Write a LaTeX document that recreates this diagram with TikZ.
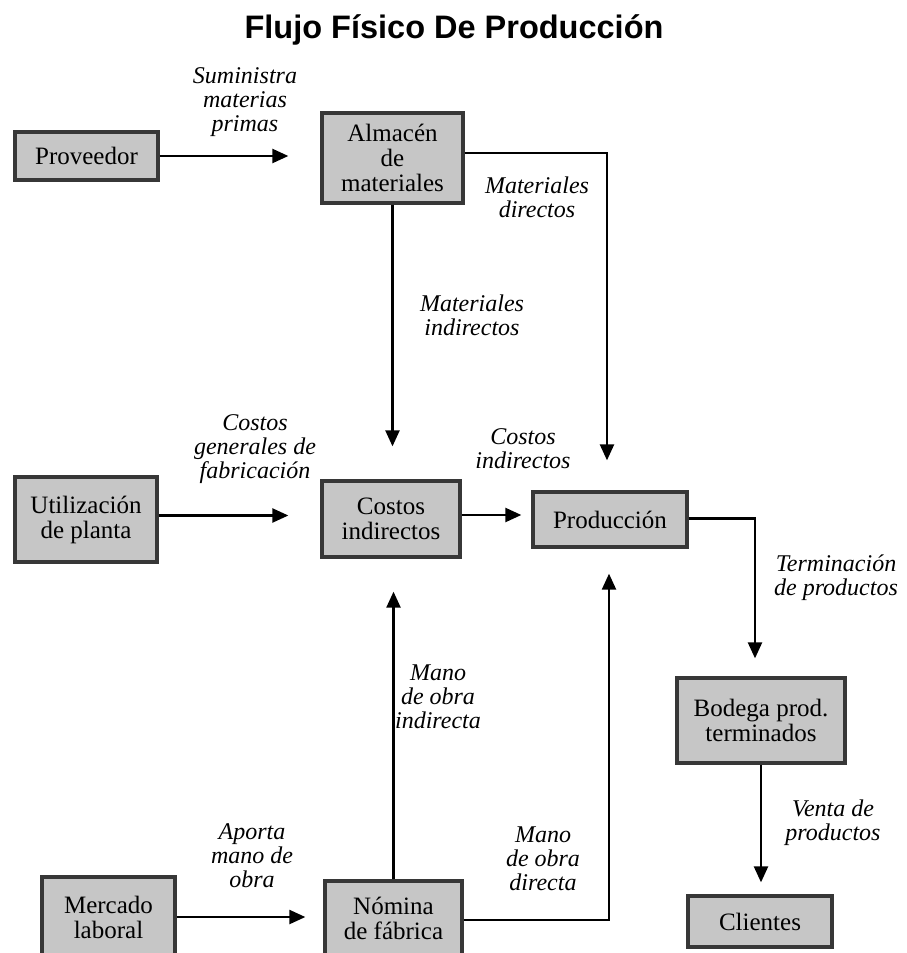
\documentclass[tikz,border=0pt]{standalone}
\usepackage{fontspec}
\setmainfont{Liberation Serif}
\newfontfamily\titlefont{Liberation Sans}
\usetikzlibrary{arrows.meta}
\definecolor{boxgray}{RGB}{198,198,198}
\definecolor{boxedge}{RGB}{55,55,55}
\begin{document}
\begin{tikzpicture}[x=1pt,y=-1pt,
  box/.style={draw=boxedge, line width=3.3pt, fill=boxgray, align=center, inner sep=0pt,
    font=\fontsize{25}{25}\selectfont},
  lbl/.style={align=center, inner sep=0pt, font=\fontsize{24}{24}\selectfont\itshape},
  arr/.style={line width=2.3pt, -{Triangle[length=16pt,width=14pt]}}]
\clip (0,0) rectangle (906,953);
\fill[white] (0,0) rectangle (906,953);
% title
\node[font=\titlefont\bfseries\fontsize{32.5}{32.5}\selectfont] (title) at (454,30) {Flujo Físico De Producción};
% boxes
\node[box, minimum width=143pt, minimum height=48pt] (prov) at (86.5,156) {Proveedor};
\node[box, minimum width=141pt, minimum height=90pt] (alm) at (392.5,158) {Almacén\\de\\materiales};
\node[box, minimum width=142pt, minimum height=85pt] (util) at (86,519.5) {Utilización\\de planta};
\node[box, minimum width=138pt, minimum height=76pt] (cost) at (391,519) {Costos\\indirectos};
\node[box, minimum width=154pt, minimum height=55pt] (prod) at (610,519.5) {Producción};
\node[box, minimum width=168pt, minimum height=85pt] (bod) at (761,720.5) {Bodega prod.\\terminados};
\node[box, minimum width=144pt, minimum height=51pt] (cli) at (760,921.5) {Clientes};
\node[box, minimum width=133pt, minimum height=80pt] (merc) at (108.5,917) {Mercado\\laboral};
\node[box, minimum width=137pt, minimum height=74pt] (nom) at (393.5,918) {Nómina\\de fábrica};
% connectors
\draw[arr, shorten >=32pt] (prov.east) -- (prov.east -| alm.west);
\draw[arr, shorten >=30pt] ([yshift=5pt]alm.east) -| ([xshift=-3pt]prod.north);
\draw[arr, shorten >=33pt] (alm.south) -- (alm.south |- cost.north);
\draw[arr, shorten >=32pt] ([yshift=4pt]util.east) -- ([yshift=4pt]util.east -| cost.west);
\draw[arr, shorten >=10pt] ([yshift=4pt]cost.east) -- ([yshift=4pt]cost.east -| prod.west);
\draw[arr, shorten >=18pt] ([yshift=1pt]prod.east) -| ([xshift=-6pt]bod.north);
\draw[arr, shorten >=12pt] (bod.south) -- (bod.south |- cli.north);
\draw[arr, shorten >=18pt] (merc.east) -- (merc.east -| nom.west);
\draw[arr, shorten >=33pt] (nom.north) -- (nom.north |- cost.south);
\draw[arr, shorten >=25pt] ([yshift=-2pt]nom.east) -| ([xshift=-1pt]prod.south);
% labels
\node[lbl] (l1) at (245,102) {Suministra\\materias\\primas};
\node[lbl] (l2) at (537,197) {Materiales\\directos};
\node[lbl] (l3) at (472,315) {Materiales\\indirectos};
\node[lbl] (l4) at (255,449) {Costos\\generales de\\fabricación};
\node[lbl] (l5) at (523,449) {Costos\\indirectos};
\node[lbl] (l6) at (836,578) {Terminación\\de productos};
\node[lbl] (l7) at (438,697) {Mano\\de obra\\indirecta};
\node[lbl] (l8) at (833,823) {Venta de\\productos};
\node[lbl] (l9) at (543,859) {Mano\\de obra\\directa};
\node[lbl] (l10) at (252,856) {Aporta\\mano de\\obra};
\end{tikzpicture}
\end{document}
